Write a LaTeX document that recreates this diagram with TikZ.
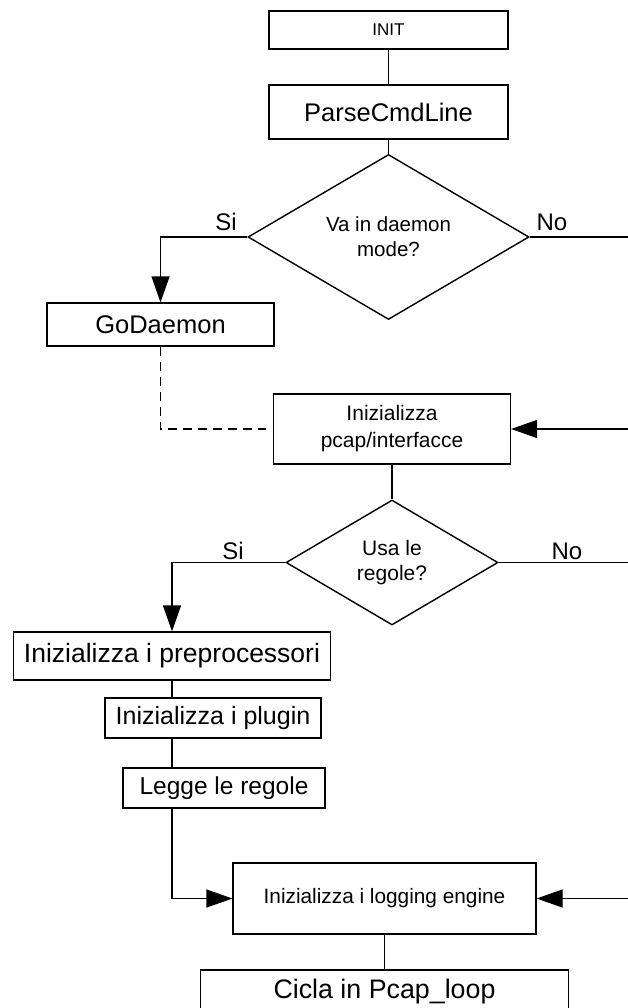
\documentclass[tikz,border=0pt]{standalone}
\usepackage{fontspec}
\setmainfont{Liberation Sans}
\usetikzlibrary{shapes.geometric,arrows.meta,calc}
\tikzset{
  box/.style={draw,line width=1.2pt,rectangle,inner sep=0pt,align=center},
  dec/.style={draw,line width=1.4pt,diamond,inner sep=0pt,align=center},
  conn/.style={line width=1.2pt},
  arr/.style={line width=1.2pt,-{Triangle[length=26pt,width=18pt]}},
  lbl/.style={inner sep=0pt,font=\fontsize{24}{24}\selectfont},
}
\newcommand{\fs}[1]{\fontsize{#1}{25}\selectfont}
\begin{document}
\begin{tikzpicture}[x=1pt,y=-1pt]
\fill[white] (0,0) rectangle (628,1008);
\useasboundingbox (0,0) rectangle (628,1008);
\clip (0,0) rectangle (628,1008);

\node[box,minimum width=239pt,minimum height=38pt,font=\fs{17}] (init) at (388.5,30) {INIT};
\node[box,minimum width=239pt,minimum height=54pt,font=\fs{25.5}] (parse) at (388.5,112) {ParseCmdLine};
\node[dec,minimum width=281pt,minimum height=163pt,font=\fs{20.5}] (d1) at (388.5,237) {Va in daemon\\mode?};
\node[box,minimum width=227pt,minimum height=43pt,font=\fs{25.5}] (god) at (160.5,324.5) {GoDaemon};
\node[box,minimum width=237pt,minimum height=70pt,font=\fontsize{21}{27}\selectfont] (pcap) at (392,429) {Inizializza\\pcap/interfacce};
\node[dec,minimum width=212pt,minimum height=125pt,font=\fs{21}] (d2) at (392,562.5) {Usa le\\regole?};
\node[box,minimum width=317pt,minimum height=48pt,font=\fs{26.5}] (prep) at (172,656) {Inizializza i preprocessori};
\node[box,minimum width=216pt,minimum height=40pt,font=\fs{25}] (plug) at (213,718) {Inizializza i plugin};
\node[box,minimum width=202pt,minimum height=40pt,font=\fs{24.5}] (legge) at (224,788) {Legge le regole};
\node[box,minimum width=303pt,minimum height=71pt,font=\fs{20.8}] (log) at (384.5,898.5) {Inizializza i logging engine};
\node[box,minimum width=368pt,minimum height=44pt,font=\fs{26.8}] (cicla) at (384.5,992) {Cicla in Pcap\_loop};

\node[lbl] (si1) at (226,222) {Si};
\node[lbl] (no1) at (552,222) {No};
\node[lbl] (si2) at (233,551) {Si};
\node[lbl] (no2) at (567,551) {No};

\coordinate (redge) at (632,0);
\coordinate (dashend) at (266,429);

\draw[conn] (init) -- (parse);
\draw[conn] (parse) -- (d1.north);
\draw[arr] (d1.west) -| (god.north);
\draw[conn] (d1.east) -- (d1.east -| redge);
\draw[conn,dash pattern=on 9pt off 6pt] (god.south) |- (dashend);
\draw[arr] (pcap.east -| redge) -- (pcap.east);
\draw[conn] (pcap.south) -- (d2.north);
\draw[arr] (d2.west) -| (prep.north);
\draw[conn] (d2.east) -- (d2.east -| redge);
\draw[conn] (prep.south) -- (prep.south |- plug.north);
\draw[conn] (prep.south |- plug.south) -- (prep.south |- legge.north);
\draw[arr] (prep.south |- legge.south) |- (log.west);
\draw[arr] (log.east -| redge) -- (log.east);
\draw[conn] (log.south) -- (cicla.north);
\end{tikzpicture}
\end{document}
